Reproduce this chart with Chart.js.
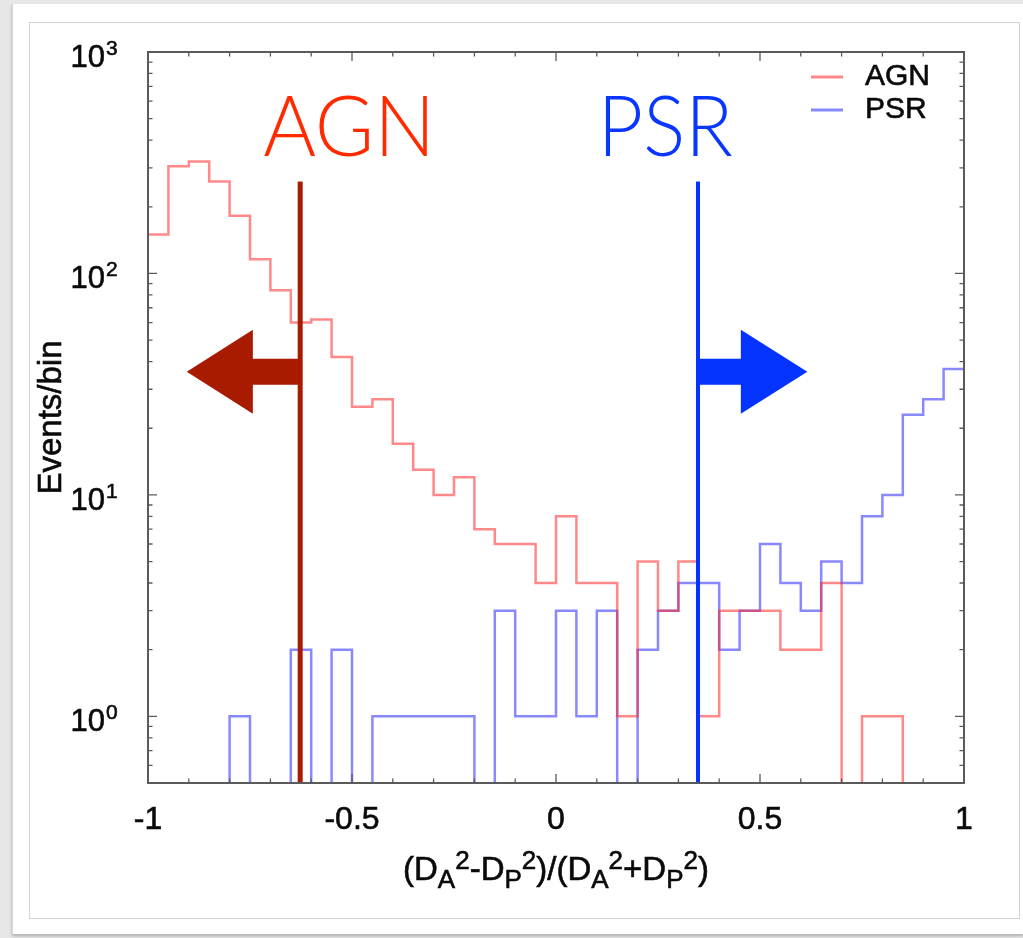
<!DOCTYPE html>
<html>
<head>
<meta charset="utf-8">
<script src="https://cdn.jsdelivr.net/npm/chart.js@4.4.1/dist/chart.umd.min.js"></script>
<style>
  html, body { margin: 0; padding: 0; width: 1023px; height: 938px; overflow: hidden; background: #e7e7e7; }
  #panel { position: absolute; left: 12px; top: 4px; width: 1011px; height: 930px; background: #ffffff; border-left: 1px solid #d6d6d6; box-shadow: 0 2px 3px rgba(0,0,0,0.25); }
  #inner { position: absolute; left: 29px; top: 22px; width: 989px; height: 895px; border: 1px solid #d2d2d2; background: #ffffff; }
  #c { position: absolute; left: 0; top: 0; }
</style>
</head>
<body>
<div id="panel"></div>
<div id="inner"></div>
<canvas id="c" width="1023" height="938"></canvas>
<script>
// ---- data ----
const binEdges = [-1.00, -0.95, -0.90, -0.85, -0.80, -0.75, -0.70, -0.65, -0.60, -0.55,
                  -0.50, -0.45, -0.40, -0.35, -0.30, -0.25, -0.20, -0.15, -0.10, -0.05,
                   0.00,  0.05,  0.10,  0.15,  0.20,  0.25,  0.30,  0.35,  0.40,  0.45,
                   0.50,  0.55,  0.60,  0.65,  0.70,  0.75,  0.80,  0.85,  0.90,  0.95];
const lastEdge = 1.00;
const agnCounts = [150, 305, 320, 260, 182, 116, 84, 60, 62, 42,
                   25, 27, 17, 13, 10, 12, 7, 6, 6, 4,
                   8, 4, 4, 1, 5, 3, 5, 1, 3, 3,
                   3, 2, 2, 4, 0, 1, 1, 0, 0, 0];
const psrCounts = [0, 0, 0, 0, 1, 0, 0, 2, 0, 2,
                   0, 1, 1, 1, 1, 1, 0, 3, 1, 1,
                   3, 1, 3, 0, 2, 3, 4, 4, 2, 3,
                   6, 4, 3, 5, 4, 8, 10, 23, 27, 37];
const seriesNames = ['AGN', 'PSR'];
const xTickValues = [-1, -0.5, 0, 0.5, 1];
const xTickLabels = ['-1', '-0.5', '0', '0.5', '1'];
const yTickValues = [1, 10, 100, 1000];
const yTickExponents = ['0', '1', '2', '3'];
const xTitle = [['(D',''],['A','sub'],['2','sup'],['-D',''],['P','sub'],['2','sup'],[')/(D',''],['A','sub'],['2','sup'],['+D',''],['P','sub'],['2','sup'],[')','']];
const yTitle = 'Events/bin';
// cut positions
const agnCut = -0.627;
const psrCut = 0.348;

// ---- styles ----
const AGN_LINE = 'rgba(255,40,40,0.55)';
const PSR_LINE = 'rgba(40,40,255,0.55)';
const AGN_MARK = '#a81b00';
const PSR_MARK = '#0433ff';
const AGN_TEXT = '#ff2a00';
const PSR_TEXT = '#0a37ff';
const FONT = "'Liberation Sans', Arial, Helvetica, sans-serif";
const INK = '#0a0a0a';

function toSteps(counts) {
  const pts = binEdges.map((e, i) => ({ x: e, y: counts[i] > 0 ? counts[i] : 1e-3 }));
  const last = counts[counts.length - 1];
  pts.push({ x: lastEdge, y: last > 0 ? last : 1e-3 });
  return pts;
}

function inkText(ctx, t, x, y) {
  ctx.fillText(t, x, y);
  ctx.lineWidth = 0.6;
  ctx.strokeStyle = INK;
  ctx.strokeText(t, x, y);
}

const decor = {
  id: 'decor',
  afterDatasetsDraw(chart) {
    const ctx = chart.ctx;
    const xs = chart.scales.x, ys = chart.scales.y;
    const a = chart.chartArea;
    const px = v => xs.getPixelForValue(v);
    const py = v => ys.getPixelForValue(v);
    ctx.save();

    // vertical cut lines
    const topVal = 260;
    ctx.fillStyle = AGN_MARK;
    ctx.fillRect(px(agnCut) - 2.5, py(topVal), 5, a.bottom - py(topVal));
    ctx.fillStyle = PSR_MARK;
    ctx.fillRect(px(psrCut) - 2, py(topVal), 4, a.bottom - py(topVal));

    // arrows
    function arrow(tailX, baseX, tipX, cyVal, color) {
      const cy = py(cyVal), sh = 13, hh = 42;
      const t = px(tailX), b = px(baseX), tp = px(tipX);
      ctx.fillStyle = color;
      ctx.beginPath();
      ctx.moveTo(t, cy - sh);
      ctx.lineTo(b, cy - sh);
      ctx.lineTo(b, cy - hh);
      ctx.lineTo(tp, cy);
      ctx.lineTo(b, cy + hh);
      ctx.lineTo(b, cy + sh);
      ctx.lineTo(t, cy + sh);
      ctx.closePath();
      ctx.fill();
    }
    arrow(agnCut - 0.004, -0.743, -0.905, 36, AGN_MARK);
    arrow(psrCut, 0.453, 0.616, 36, PSR_MARK);

    // big labels
    function bigText(txt, cx, baseVal, width, color) {
      ctx.font = "300 84px Lato, 'Open Sans', sans-serif";
      const m = ctx.measureText(txt).width;
      ctx.save();
      ctx.translate(px(cx), py(baseVal));
      ctx.scale(width / m, 1);
      ctx.fillStyle = color;
      ctx.textAlign = 'center';
      ctx.textBaseline = 'alphabetic';
      ctx.fillText(txt, 0, 0);
      ctx.restore();
    }
    bigText('AGN', -0.507, 340, 172, AGN_TEXT);
    bigText('PSR', 0.268, 340, 135, PSR_TEXT);

    // frame
    ctx.strokeStyle = '#5a5a5a';
    ctx.lineWidth = 2;
    ctx.strokeRect(a.left, a.top, a.right - a.left, a.bottom - a.top);

    // ticks
    ctx.lineWidth = 1.3;
    ctx.beginPath();
    for (let k = -10; k <= 10; k++) {
      const v = k / 10;
      const x = px(v);
      const len = (k % 5 === 0) ? 9 : 4.5;
      ctx.moveTo(x, a.bottom); ctx.lineTo(x, a.bottom - len);
      ctx.moveTo(x, a.top); ctx.lineTo(x, a.top + len);
    }
    const yMinor = [];
    for (let d = -1; d <= 2; d++) {
      for (let m = 1; m <= 9; m++) {
        const v = m * Math.pow(10, d);
        if (v >= 0.5 && v <= 1000) yMinor.push([v, m === 1]);
      }
    }
    yMinor.push([1000, true]);
    yMinor.forEach(([v, major]) => {
      const y = py(v);
      const len = major ? 9 : 4.5;
      ctx.moveTo(a.left, y); ctx.lineTo(a.left + len, y);
      ctx.moveTo(a.right, y); ctx.lineTo(a.right - len, y);
    });
    ctx.stroke();

    // x tick labels
    ctx.fillStyle = INK;
    ctx.font = '32px ' + FONT;
    ctx.textAlign = 'center';
    ctx.textBaseline = 'alphabetic';
    xTickValues.forEach((v, i) => inkText(ctx, xTickLabels[i], px(v), 829));

    // y tick labels (10^n)
    yTickValues.forEach((v, i) => {
      const y = py(v);
      ctx.font = '31px ' + FONT;
      ctx.textAlign = 'right';
      inkText(ctx, '10', 105, y + 15);
      ctx.font = '21px ' + FONT;
      ctx.textAlign = 'left';
      inkText(ctx, yTickExponents[i], 106, y + 3);
    });

    // y title
    ctx.save();
    ctx.translate(61, (a.top + a.bottom) / 2);
    ctx.rotate(-Math.PI / 2);
    ctx.font = '33px ' + FONT;
    ctx.textAlign = 'center';
    inkText(ctx, yTitle, 0, 0);
    ctx.restore();

    // x title with sub/superscripts
    const mainF = '33px ' + FONT, smallF = '26px ' + FONT;
    let total = 0;
    xTitle.forEach(([t, k]) => { ctx.font = k ? smallF : mainF; total += ctx.measureText(t).width; });
    let cx = (a.left + a.right) / 2 - total / 2;
    const base = 880;
    ctx.textAlign = 'left';
    xTitle.forEach(([t, k]) => {
      ctx.font = k ? smallF : mainF;
      const dy = k === 'sub' ? 8 : (k === 'sup' ? -11 : 0);
      inkText(ctx, t, cx, base + dy);
      cx += ctx.measureText(t).width;
    });

    // legend
    const legendRows = [[seriesNames[0], AGN_LINE, 77], [seriesNames[1], PSR_LINE, 110]];
    legendRows.forEach(([name, col, y]) => {
      ctx.strokeStyle = col;
      ctx.lineWidth = 3;
      ctx.beginPath();
      ctx.moveTo(811, y); ctx.lineTo(843, y);
      ctx.stroke();
      ctx.fillStyle = INK;
      ctx.font = '30px ' + FONT;
      ctx.textAlign = 'left';
      ctx.textBaseline = 'middle';
      inkText(ctx, name, 865, y);
    });

    ctx.restore();
  }
};

new Chart(document.getElementById('c'), {
  type: 'line',
  data: {
    datasets: [
      { label: seriesNames[0], data: toSteps(agnCounts), borderColor: AGN_LINE, borderWidth: 2.5, stepped: true, pointRadius: 0, fill: false, clip: 0 },
      { label: seriesNames[1], data: toSteps(psrCounts), borderColor: PSR_LINE, borderWidth: 2.5, stepped: true, pointRadius: 0, fill: false, clip: 0 }
    ]
  },
  options: {
    responsive: false,
    animation: false,
    events: [],
    layout: { padding: { left: 148, right: 59, top: 52, bottom: 155 } },
    plugins: { legend: { display: false }, tooltip: { enabled: false } },
    scales: {
      x: { type: 'linear', min: -1, max: 1, display: false },
      y: { type: 'logarithmic', min: 0.5, max: 1000, display: false }
    }
  },
  plugins: [decor]
});
</script>
</body>
</html>
